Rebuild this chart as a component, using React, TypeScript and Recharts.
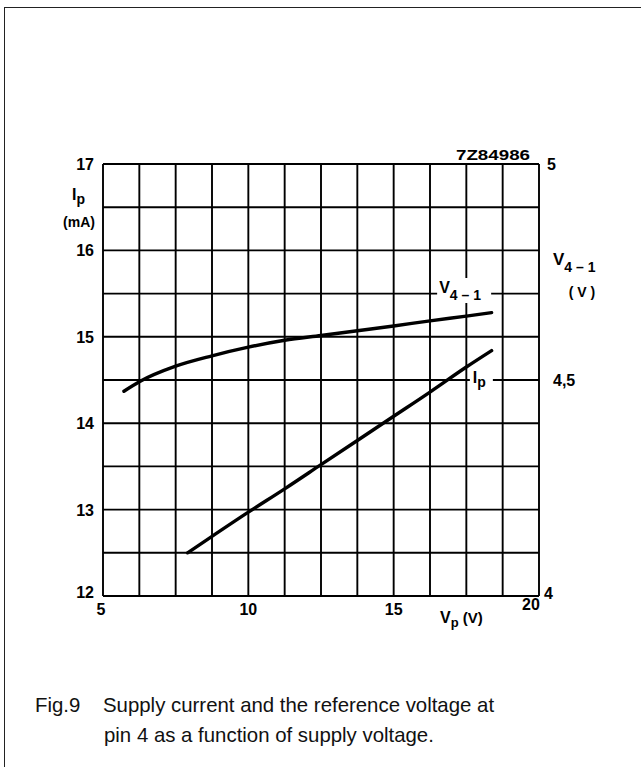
import React from 'react';
import { LineChart, Line, XAxis, YAxis, CartesianGrid, ReferenceDot } from 'recharts';

// Axis ticks (grid every 1.25 V on X, every 0.5 mA on left Y)
const xGridTicks = [5, 6.25, 7.5, 8.75, 10, 11.25, 12.5, 13.75, 15, 16.25, 17.5, 18.75, 20];
const xLabelTicks = [5, 10, 15, 20];
const ipGridTicks = [12, 12.5, 13, 13.5, 14, 14.5, 15, 15.5, 16, 16.5, 17];
const ipLabelTicks = [12, 13, 14, 15, 16, 17];
const vRefTicks = [4, 4.5, 5];
const vRefTickLabels = ['4', '4,5', '5'];

// V4-1 (right axis, V) vs supply voltage Vp
const v41Vp = [5.72, 6.25, 7.5, 8.75, 10, 11.25, 12.5, 13.75, 15, 16.25, 17.5, 18.37];
const v41Values = [4.474, 4.496, 4.532, 4.556, 4.576, 4.592, 4.603, 4.614, 4.625, 4.637, 4.648, 4.656];

// Ip (left axis, mA) vs supply voltage Vp
const ipVp = [7.91, 8.75, 10, 11.25, 12.5, 13.75, 15, 16.25, 17.5, 18.37];
const ipValues = [12.5, 12.69, 12.97, 13.24, 13.52, 13.8, 14.08, 14.36, 14.65, 14.84];

const v41Data = v41Vp.map((vp, i) => ({ vp, v: v41Values[i] }));
const ipData = ipVp.map((vp, i) => ({ vp, ip: ipValues[i] }));

const FONT = '"Liberation Sans", Arial, Helvetica, sans-serif';

const XTick = (props: any) => {
  const { x, y, payload } = props;
  const v = payload.value;
  if (!xLabelTicks.includes(v)) return <g />;
  let dx = 0;
  let dy = 19;
  if (v === 5) dx = -2;
  if (v === 20) { dx = -8; dy = 14; }
  return (
    <text x={x + dx} y={y + dy} textAnchor="middle" fontFamily={FONT} fontWeight="bold" fontSize={16} fill="#000">
      {v}
    </text>
  );
};

const LeftTick = (props: any) => {
  const { x, y, payload } = props;
  const v = payload.value;
  if (!ipLabelTicks.includes(v)) return <g />;
  let dy = 6;
  if (v === 12) dy = 2;
  return (
    <text x={x - 9} y={y + dy} textAnchor="end" fontFamily={FONT} fontWeight="bold" fontSize={16} fill="#000">
      {v}
    </text>
  );
};

const RightTick = (props: any) => {
  const { x, y, payload, index } = props;
  const v = payload.value;
  const idx = vRefTicks.indexOf(v);
  const label = vRefTickLabels[idx >= 0 ? idx : index];
  let dx = 14;
  let dy = 6;
  if (v === 5) { dx = 8; dy = 6; }
  if (v === 4) { dx = 5; dy = 3; }
  return (
    <text x={x + dx} y={y + dy} textAnchor="start" fontFamily={FONT} fontWeight="bold" fontSize={16} fill="#000">
      {label}
    </text>
  );
};

const LeftAxisLabel = (props: any) => {
  const vb = props.viewBox || { x: 102, y: 164 };
  const x = vb.x;
  const y = vb.y;
  return (
    <g fontFamily={FONT} fontWeight="bold" fill="#000">
      <text x={x - 30} y={y + 36} fontSize={16}>
        I<tspan fontSize={14} dy={4}>p</tspan>
      </text>
      <text x={x - 23} y={y + 63} fontSize={14} textAnchor="middle">(mA)</text>
    </g>
  );
};

const RightAxisLabel = (props: any) => {
  const vb = props.viewBox || { x: 539, y: 164 };
  const x = vb.x;
  const y = vb.y;
  return (
    <g fontFamily={FONT} fontWeight="bold" fill="#000">
      <text x={x + 14} y={y + 101} fontSize={17}>
        V<tspan fontSize={14} dy={7}>4 – 1</tspan>
      </text>
      <text x={x + 43} y={y + 133} fontSize={14} textAnchor="middle">( V )</text>
      <text x={x - 9} y={y - 4} fontSize={14} textAnchor="end" textLength={74} lengthAdjust="spacingAndGlyphs">7Z84986</text>
    </g>
  );
};

const XAxisLabel = (props: any) => {
  const vb = props.viewBox || { x: 103, y: 596 };
  const x = vb.x;
  const y = vb.y;
  return (
    <text x={x + 337} y={y + 27} fontFamily={FONT} fontWeight="bold" fontSize={16} fill="#000">
      V<tspan fontSize={13} dy={4}>p</tspan>
      <tspan dy={-4} fontSize={15}> (V)</tspan>
    </text>
  );
};

const CurveLabelV41 = (props: any) => {
  const { cx, cy } = props;
  return (
    <g fontFamily={FONT} fontWeight="bold" fill="#000">
      <rect x={cx - 26} y={cy - 13} width={54} height={25} fill="#fff" />
      <text x={cx - 24} y={cy + 2} fontSize={16}>
        V<tspan fontSize={14} dy={7}>4 – 1</tspan>
      </text>
    </g>
  );
};

const CurveLabelIp = (props: any) => {
  const { cx, cy } = props;
  return (
    <g fontFamily={FONT} fontWeight="bold" fill="#000">
      <rect x={cx - 11} y={cy - 12} width={23} height={24} fill="#fff" />
      <text x={cx - 8} y={cy + 3} fontSize={16}>
        I<tspan fontSize={14} dy={4}>p</tspan>
      </text>
    </g>
  );
};

export default function App() {
  return (
    <div style={{ position: 'absolute', left: 0, top: 0, width: 641, height: 767, overflow: 'hidden', background: '#fff' }}>
      <div
        style={{
          position: 'absolute',
          left: 4,
          top: 7,
          width: 700,
          height: 800,
          borderLeft: '1.5px solid #222',
          borderTop: '1.5px solid #222',
        }}
      />
      <div style={{ position: 'absolute', left: 0, top: 0 }}>
        <LineChart width={641} height={767} margin={{ top: 164, left: 102, right: 101, bottom: 170 }}>
          <CartesianGrid xAxisId="x" yAxisId="left" stroke="#000" strokeWidth={1.9} fill="none" />
          <XAxis
            xAxisId="x"
            dataKey="vp"
            type="number"
            domain={[5, 20]}
            ticks={xGridTicks}
            interval={0}
            height={1}
            axisLine={false}
            tickLine={false}
            tickSize={0}
            tickMargin={0}
            tick={<XTick />}
            allowDataOverflow
            label={<XAxisLabel />}
          />
          <YAxis
            yAxisId="left"
            type="number"
            domain={[12, 17]}
            ticks={ipGridTicks}
            interval={0}
            width={1}
            axisLine={false}
            tickLine={false}
            tickSize={0}
            tickMargin={0}
            tick={<LeftTick />}
            allowDataOverflow
            label={<LeftAxisLabel />}
          />
          <YAxis
            yAxisId="right"
            orientation="right"
            type="number"
            domain={[4, 5]}
            ticks={vRefTicks}
            interval={0}
            width={1}
            axisLine={false}
            tickLine={false}
            tickSize={0}
            tickMargin={0}
            tick={<RightTick />}
            allowDataOverflow
            label={<RightAxisLabel />}
          />
          <Line
            xAxisId="x"
            yAxisId="right"
            data={v41Data}
            dataKey="v"
            type="monotone"
            stroke="#000"
            strokeWidth={3.4}
            strokeLinecap="round"
            dot={false}
            activeDot={false}
            isAnimationActive={false}
          />
          <Line
            xAxisId="x"
            yAxisId="left"
            data={ipData}
            dataKey="ip"
            type="monotone"
            stroke="#000"
            strokeWidth={3.4}
            strokeLinecap="round"
            dot={false}
            activeDot={false}
            isAnimationActive={false}
          />
          <ReferenceDot xAxisId="x" yAxisId="left" x={17.39} y={15.53} r={0} shape={<CurveLabelV41 />} ifOverflow="visible" />
          <ReferenceDot xAxisId="x" yAxisId="left" x={18.0} y={14.5} r={0} shape={<CurveLabelIp />} ifOverflow="visible" />
        </LineChart>
      </div>
      <svg width={641} height={767} style={{ position: 'absolute', left: 0, top: 0, pointerEvents: 'none' }}>
        <g fontFamily={FONT} fontSize={20.4} fill="#111">
          <text x={35} y={712}>Fig.9</text>
          <text x={103} y={712}>Supply current and the reference voltage at</text>
          <text x={104} y={742}>pin 4 as a function of supply voltage.</text>
        </g>
      </svg>
    </div>
  );
}
